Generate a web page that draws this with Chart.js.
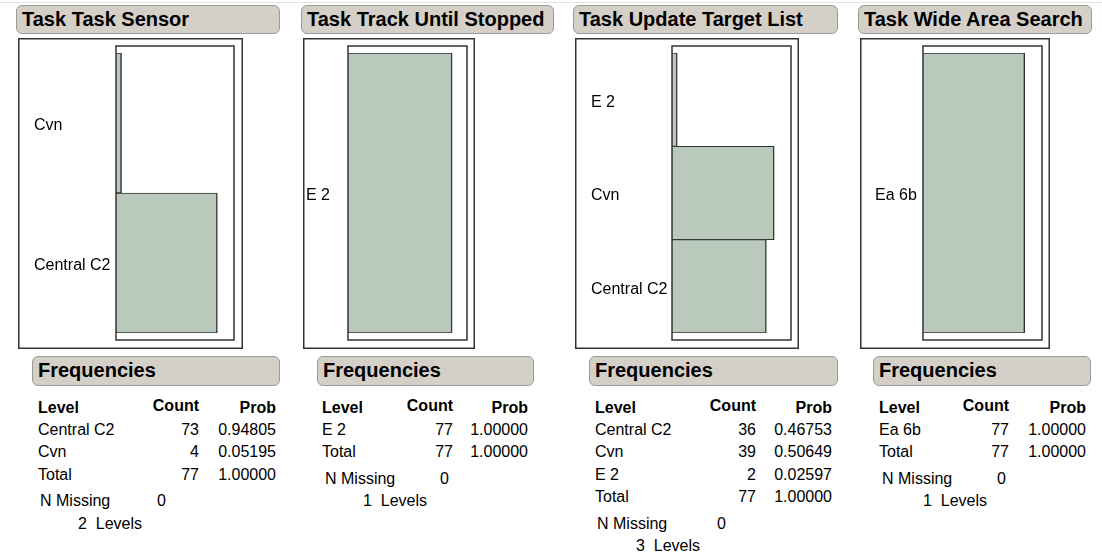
<!DOCTYPE html>
<html><head><meta charset="utf-8">
<script src="https://cdn.jsdelivr.net/npm/chart.js@4.4.1/dist/chart.umd.min.js"></script>
<style>
html,body{margin:0;padding:0;background:#fff;width:1102px;height:558px;overflow:hidden;font-family:"Liberation Sans",Arial,sans-serif;}
.hdr{position:absolute;box-sizing:border-box;background:#d4d0c8;border:1.5px solid #9d9b97;border-radius:6px;font-weight:bold;font-size:20px;color:#000;padding-left:5px;white-space:nowrap;}
.t{position:absolute;font-size:16px;line-height:22px;height:22px;color:#000;white-space:pre;}
.b{font-weight:bold}
.r{text-align:right}
canvas{position:absolute}
.topline{position:absolute;left:0;top:2px;width:1102px;height:1px;background:#e2e2e2}
</style></head><body>
<div class="topline"></div>
<div id="root"></div>
<script>
// ---- data ----
const titles = ['Task Task Sensor', 'Task Track Until Stopped', 'Task Update Target List', 'Task Wide Area Search'];
const levelsSensor = ['Central C2', 'Cvn'];
const countsSensor = [73, 4];
const levelsTrack = ['E 2'];
const countsTrack = [77];
const levelsUpdate = ['Central C2', 'Cvn', 'E 2'];
const countsUpdate = [36, 39, 2];
const levelsWide = ['Ea 6b'];
const countsWide = [77];
const nMissing = [0, 0, 0, 0];
const axisMax = [85, 88, 45.4, 90];

const panelLevels = [levelsSensor, levelsTrack, levelsUpdate, levelsWide];
const panelCounts = [countsSensor, countsTrack, countsUpdate, countsWide];

// ---- layout ----
const layout = [
  {title:[16,5,264,29], outer:[18,38,225,311], padL:16, axisW:82, padR:9, freq:[32,356,248,30], lvlX:38, cntR:199, prbR:276, nmX:40, nmV:157, lvX:78},
  {title:[301,5,253,29], outer:[303,38,172,311], padL:3, axisW:42, padR:8, freq:[317,356,217,30], lvlX:322, cntR:453, prbR:528, nmX:325, nmV:440, lvX:363},
  {title:[573,5,265,29], outer:[575,38,224,311], padL:16, axisW:81, padR:8, freq:[589,356,249,30], lvlX:595, cntR:756, prbR:832, nmX:597, nmV:717, lvX:636},
  {title:[858,5,234,29], outer:[860,38,190,311], padL:15, axisW:48, padR:8, freq:[873,356,218,30], lvlX:879, cntR:1009, prbR:1086, nmX:882, nmV:997, lvX:923}
];

const root = document.getElementById('root');
function box(r, text){
  const d = document.createElement('div');
  d.className = 'hdr';
  d.style.left = r[0]+'px'; d.style.top = r[1]+'px';
  d.style.width = r[2]+'px'; d.style.height = r[3]+'px';
  d.style.lineHeight = (r[3]-3)+'px';
  d.textContent = text;
  root.appendChild(d);
}
function txt(s, x, cy, bold, right){
  const d = document.createElement('div');
  d.className = 't' + (bold?' b':'') + (right?' r':'');
  d.textContent = s;
  d.style.top = (cy - 10.5) + 'px';
  if (right){ d.style.left = (x-200)+'px'; d.style.width='200px'; }
  else d.style.left = x + 'px';
  root.appendChild(d);
}

const framePlugin = {
  id:'frames',
  afterDatasetsDraw(chart){
    const ctx = chart.ctx, a = chart.chartArea;
    ctx.save();
    ctx.strokeStyle = '#333';
    ctx.lineWidth = 1.5;
    ctx.strokeRect(a.left, a.top-7, a.right-a.left, a.bottom-a.top+14);
    ctx.strokeRect(0.75, 0.75, chart.width-1.5, chart.height-1.5);
    ctx.restore();
  }
};

const FONT = '"Liberation Sans", Arial, sans-serif';

for (let i=0;i<4;i++){
  const L = layout[i];
  const levels = panelLevels[i], counts = panelCounts[i];
  box(L.title, titles[i]);
  const cv = document.createElement('canvas');
  cv.width = L.outer[2]; cv.height = L.outer[3];
  cv.style.left = L.outer[0]+'px'; cv.style.top = L.outer[1]+'px';
  cv.style.width = L.outer[2]+'px'; cv.style.height = L.outer[3]+'px';
  root.appendChild(cv);
  new Chart(cv, {
    type:'bar',
    data:{labels: levels, datasets:[{data: counts, backgroundColor:'#b9cabc', borderColor:'#333',
      borderWidth:{top:1, right:1.5, bottom:1, left:0}, borderSkipped:false, barPercentage:1, categoryPercentage:1}]},
    options:{
      indexAxis:'y', responsive:false, animation:false, devicePixelRatio:1,
      layout:{padding:{left:L.padL, right:L.padR, top:15, bottom:16}},
      plugins:{legend:{display:false}, tooltip:{enabled:false}},
      scales:{
        x:{display:false, min:0, max:axisMax[i]},
        y:{reverse:true, grid:{display:false}, border:{display:false},
           ticks:{crossAlign:'far', padding:0, labelOffset:3, color:'#000', font:{family:FONT, size:16}},
           afterFit(s){ s.width = L.axisW; }}
      }
    },
    plugins:[framePlugin]
  });

  // Frequencies table
  box(L.freq, 'Frequencies');
  const total = counts.reduce((a,b)=>a+b,0);
  txt('Level', L.lvlX, 407, true, false);
  txt('Count', L.cntR, 405, true, true);
  txt('Prob', L.prbR, 407, true, true);
  let y = 429;
  for (let k=0;k<levels.length;k++){
    txt(levels[k], L.lvlX, y, false, false);
    txt(String(counts[k]), L.cntR, y, false, true);
    txt((counts[k]/total).toFixed(5), L.prbR, y, false, true);
    y += 22.5;
  }
  txt('Total', L.lvlX, y, false, false);
  txt(String(total), L.cntR, y, false, true);
  txt((1).toFixed(5), L.prbR, y, false, true);
  y += 26.5;
  txt('N Missing', L.nmX, y, false, false);
  txt(String(nMissing[i]), L.nmV, y, false, false);
  y += 22.5;
  txt(levels.length + '  Levels', L.lvX, y, false, false);
}
</script>
</body></html>
